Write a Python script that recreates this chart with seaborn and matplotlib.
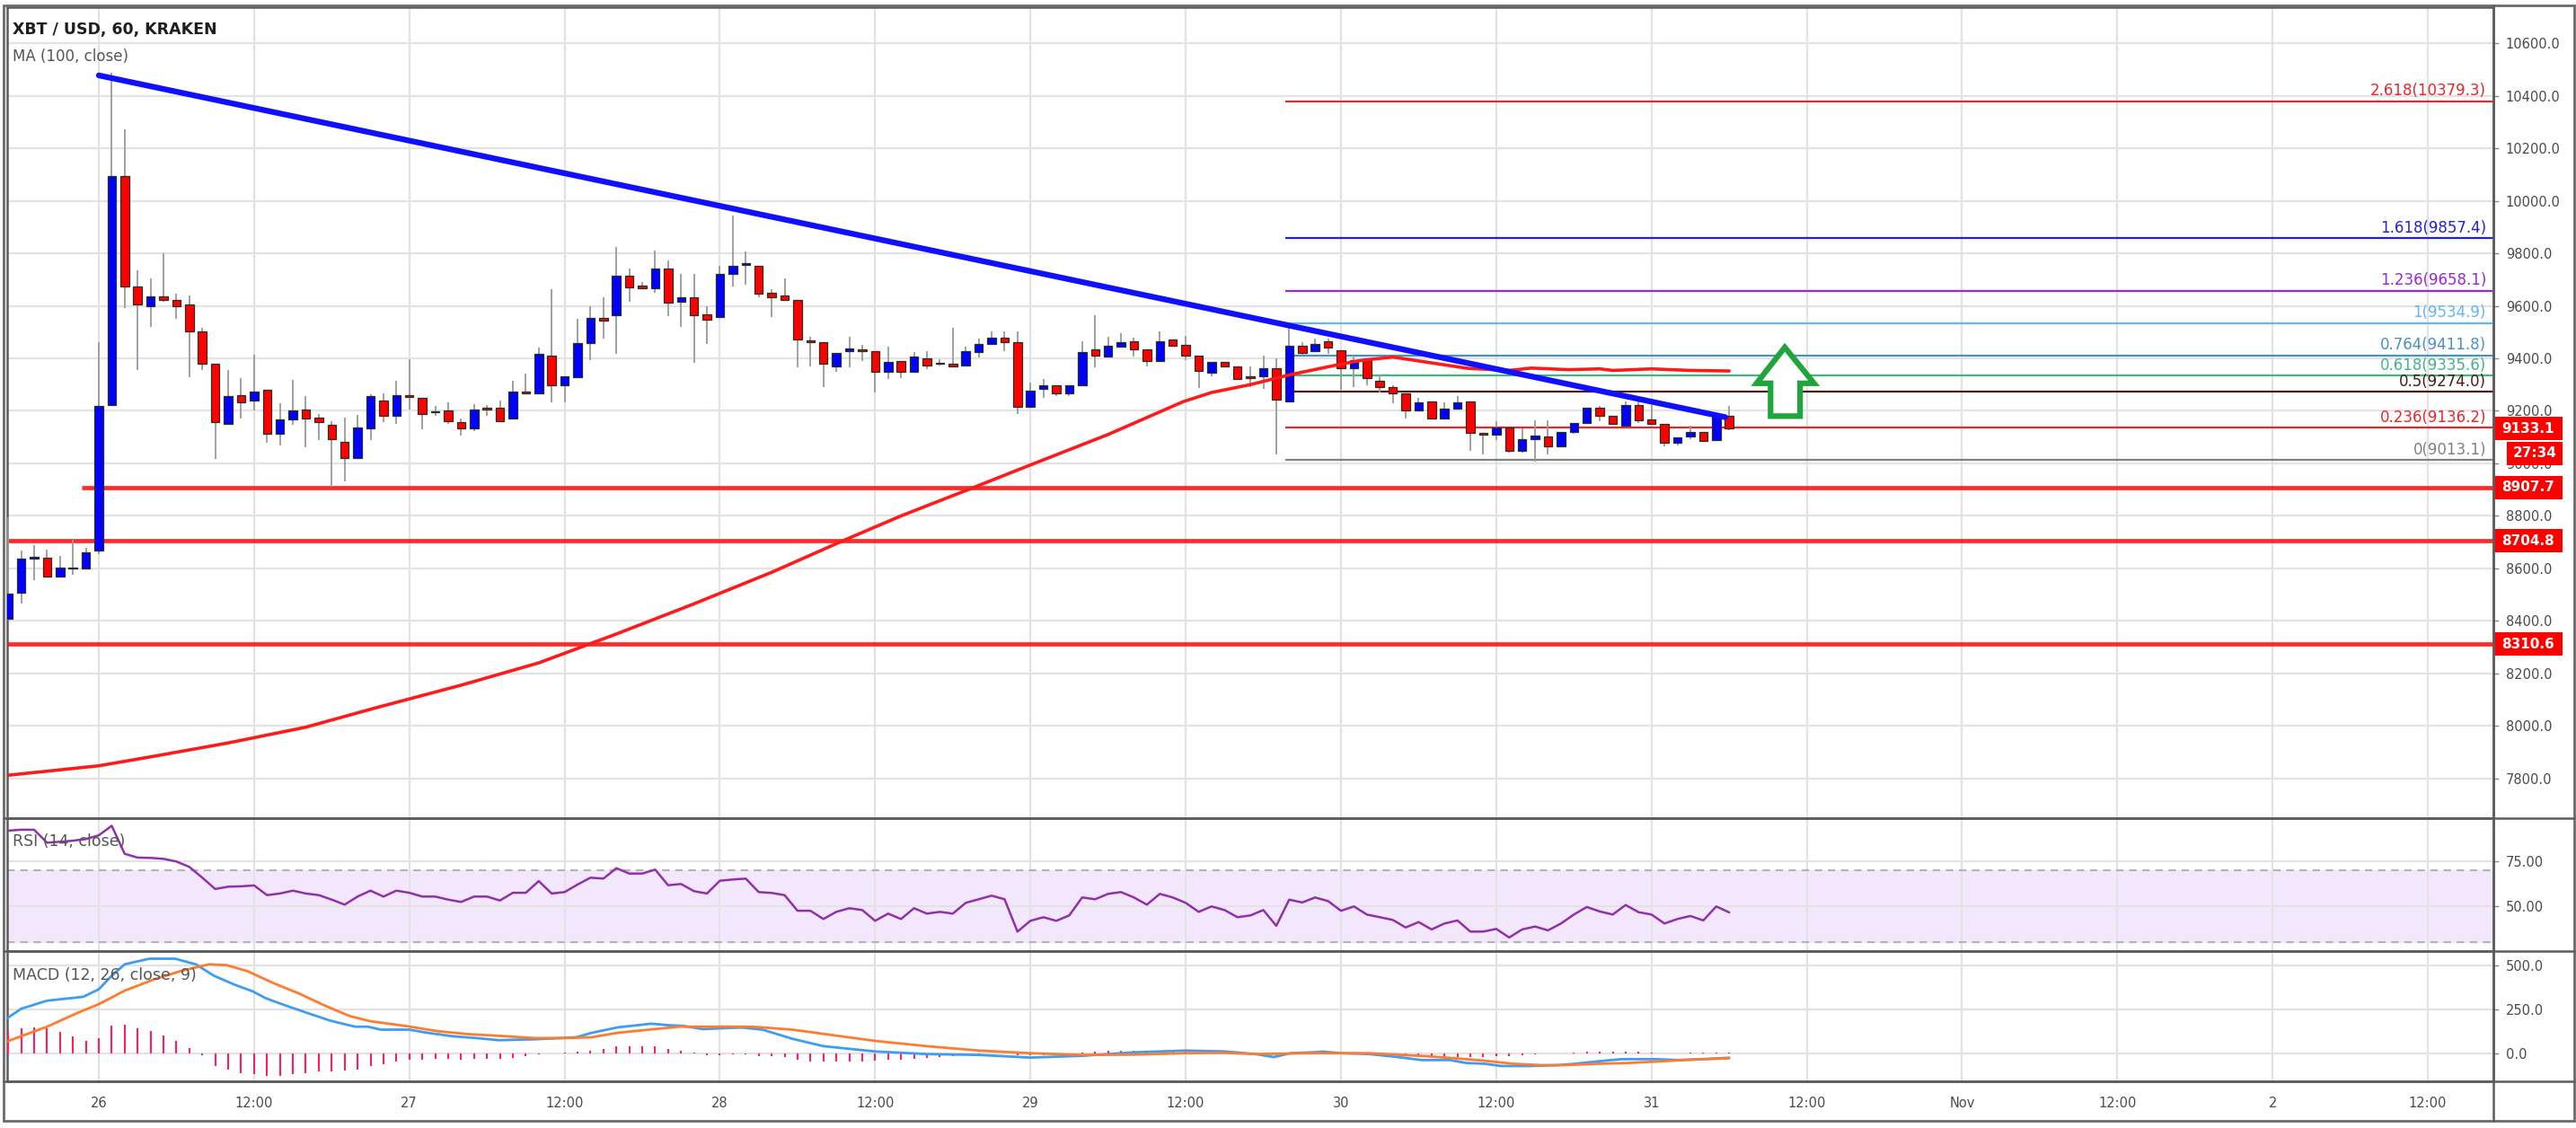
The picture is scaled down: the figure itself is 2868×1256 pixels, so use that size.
import matplotlib
matplotlib.use("Agg")
import numpy as np
import pandas as pd
import matplotlib.pyplot as plt
import matplotlib.dates as mdates
import matplotlib.transforms as mtransforms
from matplotlib.patches import Rectangle, Polygon
from matplotlib.lines import Line2D
import seaborn as sns

# ---------------------------------------------------------------- data
origin_time = "2019-10-26 00:00"
first_candle = "2019-10-25 17:00"

opens = [8409, 8506, 8636, 8640, 8570, 8603, 8600, 8668, 9222, 10094,
         9675, 9600, 9637, 9621, 9606, 9503, 9378, 9152, 9261, 9238,
         9281, 9113, 9167, 9205, 9175, 9148, 9083, 9022, 9132, 9238,
         9180, 9261, 9250, 9198, 9200, 9158, 9134, 9211, 9211, 9172,
         9275, 9267, 9411, 9297, 9329, 9457, 9554, 9566, 9714, 9678,
         9666, 9742, 9617, 9634, 9569, 9557, 9720, 9757, 9752, 9649,
         9640, 9623, 9467, 9460, 9368, 9426, 9433, 9429, 9349, 9391,
         9349, 9400, 9383, 9380, 9374, 9423, 9455, 9478, 9460, 9217,
         9283, 9297, 9265, 9297, 9434, 9406, 9445, 9465, 9434, 9389,
         9471, 9451, 9411, 9346, 9385, 9369, 9331, 9332, 9362, 9237,
         9449, 9428, 9465, 9430, 9362, 9394, 9315, 9290, 9267, 9200,
         9235, 9172, 9210, 9235, 9115, 9110, 9135, 9047, 9093, 9102,
         9064, 9118, 9155, 9212, 9180, 9145, 9223, 9166, 9152, 9078,
         9104, 9120, 9090, 9180]
highs = [8793, 8668, 8690, 8670, 8648, 8710, 8678, 9462, 10489, 10274,
         9736, 9703, 9800, 9646, 9638, 9515, 9378, 9357, 9324, 9414,
         9281, 9228, 9319, 9258, 9187, 9160, 9175, 9186, 9262, 9266,
         9315, 9397, 9250, 9220, 9232, 9170, 9226, 9223, 9238, 9315,
         9342, 9442, 9663, 9331, 9549, 9600, 9634, 9823, 9743, 9691,
         9811, 9774, 9720, 9720, 9600, 9754, 9943, 9808, 9754, 9663,
         9705, 9623, 9483, 9460, 9420, 9483, 9451, 9429, 9446, 9391,
         9423, 9429, 9397, 9517, 9446, 9474, 9503, 9503, 9503, 9309,
         9322, 9297, 9297, 9465, 9563, 9483, 9497, 9480, 9434, 9503,
         9471, 9486, 9411, 9385, 9385, 9369, 9369, 9411, 9400, 9519,
         9462, 9474, 9474, 9430, 9411, 9400, 9337, 9298, 9267, 9248,
         9235, 9233, 9256, 9235, 9115, 9161, 9135, 9133, 9163, 9163,
         9118, 9155, 9212, 9218, 9180, 9235, 9235, 9223, 9152, 9100,
         9144, 9120, 9180, 9218]
lows = [8400, 8465, 8556, 8570, 8568, 8575, 8600, 8656, 9218, 9592,
        9355, 9519, 9615, 9550, 9328, 9354, 9017, 9152, 9171, 9203,
        9080, 9067, 9147, 9060, 9090, 8910, 8930, 9020, 9090, 9157,
        9150, 9204, 9130, 9180, 9150, 9105, 9123, 9180, 9160, 9172,
        9265, 9265, 9234, 9234, 9329, 9394, 9474, 9417, 9614, 9663,
        9651, 9560, 9520, 9383, 9454, 9557, 9674, 9680, 9632, 9557,
        9623, 9366, 9371, 9291, 9349, 9366, 9389, 9269, 9320, 9326,
        9349, 9360, 9374, 9369, 9374, 9403, 9455, 9426, 9189, 9217,
        9251, 9257, 9257, 9297, 9366, 9406, 9445, 9406, 9371, 9389,
        9449, 9394, 9286, 9331, 9366, 9323, 9291, 9285, 9034, 9237,
        9411, 9428, 9417, 9280, 9290, 9297, 9269, 9230, 9172, 9200,
        9166, 9166, 9210, 9047, 9035, 9088, 9041, 9041, 9008, 9033,
        9064, 9113, 9155, 9159, 9152, 9145, 9155, 9152, 9064, 9067,
        9093, 9087, 9090, 9128]
closes = [8503, 8636, 8645, 8570, 8602, 8600, 8662, 9218, 10094, 9675,
          9606, 9637, 9621, 9600, 9503, 9378, 9157, 9255, 9232, 9275,
          9113, 9167, 9200, 9171, 9157, 9092, 9022, 9137, 9255, 9180,
          9261, 9253, 9188, 9195, 9162, 9134, 9205, 9205, 9162, 9275,
          9265, 9416, 9297, 9331, 9457, 9554, 9545, 9714, 9671, 9666,
          9742, 9611, 9634, 9566, 9546, 9720, 9752, 9763, 9648, 9632,
          9623, 9471, 9463, 9379, 9420, 9437, 9426, 9349, 9385, 9349,
          9406, 9374, 9380, 9369, 9429, 9455, 9478, 9460, 9217, 9277,
          9297, 9266, 9297, 9423, 9411, 9449, 9460, 9434, 9389, 9465,
          9449, 9411, 9352, 9385, 9369, 9323, 9326, 9362, 9244, 9449,
          9419, 9456, 9442, 9362, 9394, 9324, 9292, 9267, 9200, 9232,
          9172, 9210, 9233, 9115, 9110, 9135, 9047, 9093, 9105, 9064,
          9118, 9155, 9212, 9180, 9152, 9223, 9163, 9152, 9078, 9100,
          9121, 9087, 9180, 9133.1]

# MA(100) (hours from Oct 26 00:00, price)
ma_hours = [-7, 0, 4, 10, 16, 21.5, 28, 34, 40, 46, 52, 57.5, 62, 67.6, 72, 78,
            83.8, 86, 89, 92, 95.6, 97.5, 100, 102.7, 105.8, 109, 110.7, 113.6,
            116, 117, 120, 123, 126]
ma_values = [7812, 7848, 7882, 7935, 7995, 8070, 8155, 8240, 8350, 8465, 8585,
             8705, 8800, 8908, 8994, 9110, 9235, 9270, 9300, 9337, 9374, 9392,
             9405, 9385, 9362, 9354, 9363, 9357, 9360, 9354, 9360, 9354, 9352]

# descending trend line (hours, price)
trend_hours = [0.0, 125.7]
trend_prices = [10478, 9176]

# horizontal supports
support_prices = [8907.7, 8704.8, 8310.6]
support_start_hours = [-1.3, -7.1, -7.1]

# Fibonacci extension
fib_ratios = ["2.618", "1.618", "1.236", "1", "0.764", "0.618", "0.5", "0.236", "0"]
fib_prices = [10379.3, 9857.4, 9658.1, 9534.9, 9411.8, 9335.6, 9274.0, 9136.2, 9013.1]
fib_start_hour = 91.7

last_price_label = "9133.1"
countdown_label = "27:34"

# RSI(14) per candle
rsi_values = [92.2, 92.7, 92.7, 85.5, 86.0, 86.6, 87.5, 89.6, 94.9, 79.3,
              77.2, 77.0, 76.5, 75.0, 72.0, 66.0, 59.7, 61.0, 61.2, 61.7,
              56.3, 57.2, 58.8, 57.2, 56.3, 53.8, 51.0, 55.5, 58.8, 55.5,
              58.8, 57.6, 55.5, 55.5, 53.8, 52.5, 55.5, 55.5, 53.3, 57.6,
              57.6, 64.1, 57.2, 58.0, 62.2, 66.0, 65.5, 71.3, 68.3, 68.3,
              70.5, 61.8, 62.5, 58.5, 57.2, 64.3, 65.0, 65.5, 58.0, 57.5,
              56.3, 47.6, 47.6,
              43, 47, 49, 48, 42, 46, 43, 49, 46, 47, 46, 52, 54, 56, 54, 36,
              42, 44, 42, 45, 55, 54, 57, 58, 55, 51, 57, 55, 52, 47, 50, 48,
              44, 45,
              48.0, 39.2, 53.8, 52.2, 55.0, 53.0, 47.6, 50.0, 45.5, 44.0, 42.5,
              38.3, 41.3, 37.2, 40.5, 42.2, 36.0, 36.0, 37.5, 32.7, 37.2, 38.8,
              36.7, 40.5, 45.5, 49.7, 47.2, 45.5, 50.8, 46.8, 45.5, 40.5, 43.0,
              44.7, 42.2, 50.0, 46.7]

# MACD(12,26,9): histogram per candle, MACD & signal lines as read points
macd_hist = [123, 143, 149, 140, 120, 94, 68, 85, 157, 161,
             143, 126, 102, 68, 29, -14, -73, -96, -116, -120,
             -128, -128, -120, -113, -102, -102, -99, -96, -73, -65,
             -48, -39, -36, -31, -31, -39, -31, -31, -31, -26,
             -17, -5, 0, 2, 7, 15, 24, 38, 38, 38,
             38, 24, 15, 3, -14, -14, -5, -7, -17, -17, -24, -39,
             -45, -48, -50, -48, -45, -42, -38, -35, -30, -27, -22, -18, -12,
             -8, -4, -2, -12, -14, -12, -10, -6, 5, 8, 12, 14, 14, 12, 13, 12,
             9, 5, 3, 0, -3, -4,
             -3, -2, 2, 3, 5, 3, 0, -2, -3, -3, -5, -12, -15, -17, -20, -20,
             -22, -20, -17, -15, -10, -7, -3, 0, 3, 7, 7, 7, 7, 7, 5, 0, 0, 2,
             2, 3, 3]
macd_hours = [-7.2, -6, -4, -1.2, 0, 1, 2, 3.9, 5.9, 7.5, 8.9, 10.5, 11.9, 12.9,
              14.5, 16.2, 17.9, 19.8, 20.8, 21.8, 24, 25.4, 27.4, 29.2, 30.9,
              33.6, 35.7, 36.9, 38.1, 40.1, 42.7, 44.1, 45.1, 46.7, 48.1, 49.7,
              51.3, 53.6, 56, 60, 64, 68, 72, 76, 80, 84, 87, 89.4, 90.8, 92.1,
              93.8, 94.6, 96, 98.2, 100.4, 102.2, 104.4, 105.7, 107.1, 108.4,
              110.6, 112.8, 114.1, 115.9, 117.7, 120.3, 122.1, 123.8, 126]
macd_line = [193, 253, 299, 321, 364, 441, 506, 538, 538, 506, 441, 390, 352,
             313, 270, 227, 185, 151, 151, 134, 134, 116, 96, 86, 74, 79, 86,
             91, 116, 147, 168, 159, 156, 137, 142, 146, 134, 82, 40, 10, -5,
             -10, -25, -15, 5, 15, 10, -5, -22, 0, 5, 9, 0, -5, -22, -39, -39,
             -56, -60, -73, -73, -68, -60, -46, -34, -34, -39, -34, -26]
signal_hours = [-7.2, -4, -1.6, 0, 2, 4.3, 6.3, 8.5, 9.9, 11.5, 13.5, 15.5, 17.5,
                19.4, 21, 23.8, 26.2, 28.6, 30.9, 33.7, 36.1, 38.1, 40.1, 42.5,
                44.9, 48.1, 50.5, 53.6, 56, 60, 64, 68, 72, 76, 80, 84, 87, 89.4,
                93.8, 98.2, 100.4, 102.6, 104.8, 107.1, 109.3, 111.5, 113.3,
                115.9, 118.1, 120.3, 122.5, 126]
signal_line = [64, 151, 231, 279, 356, 421, 467, 506, 501, 467, 399, 339, 270,
               211, 182, 154, 125, 108, 99, 86, 86, 91, 116, 134, 151, 151, 151,
               134, 110, 70, 40, 15, 0, -10, -8, 0, 2, -5, 0, 0, -9, -17, -29,
               -43, -60, -68, -68, -60, -56, -48, -39, -29]

tick_hours = [0, 12, 24, 36, 48, 60, 72, 84, 96, 108, 120, 132, 144, 156, 168, 180]
tick_labels = ["26", "12:00", "27", "12:00", "28", "12:00", "29", "12:00",
               "30", "12:00", "31", "12:00", "Nov", "12:00", "2", "12:00"]

# ---------------------------------------------------------------- style
sns.set_theme(style="white")
plt.rcParams["font.family"] = ["DejaVu Sans"]

W, H = 2868, 1256
fig = plt.figure(figsize=(W / 100, H / 100), dpi=100)
fig.patch.set_facecolor("white")

def rect(x0, y0, x1, y1):
    return [x0 / W, 1 - y1 / H, (x1 - x0) / W, (y1 - y0) / H]

PL, PR = 8, 2776
Y_MAIN_TOP, Y_MAIN_BOT, Y_RSI_BOT, Y_MACD_BOT = 8, 910.7, 1058.7, 1204
ax = fig.add_axes(rect(PL, Y_MAIN_TOP, PR, Y_MAIN_BOT))
ax_rsi = fig.add_axes(rect(PL, Y_MAIN_BOT, PR, Y_RSI_BOT), sharex=ax)
ax_macd = fig.add_axes(rect(PL, Y_RSI_BOT, PR, Y_MACD_BOT), sharex=ax)

origin = pd.Timestamp(origin_time)
def at(hours):
    return mdates.date2num(origin + pd.to_timedelta(np.asarray(hours, float), unit="h"))

candle_x = mdates.date2num(pd.date_range(first_candle, periods=len(opens), freq="h"))
one_hour = 1 / 24
XL, XR = at(-7.08), at(185.06)

GRID = "#e3e3e3"
AXC = "#5c5c5c"
LBL = "#4a4a4a"

for a in (ax, ax_rsi, ax_macd):
    a.set_facecolor("white")
    a.set_xlim(XL, XR)
    a.set_xticks(at(tick_hours))
    a.grid(True, color=GRID, linewidth=1.6)
    a.set_axisbelow(True)
    a.yaxis.tick_right()
    for s in a.spines.values():
        s.set_color(AXC)
        s.set_linewidth(1.8)
    a.tick_params(axis="y", direction="out", length=4, width=1, color="#8a8a8a",
                  labelsize=10.5, labelcolor=LBL, pad=6)
    a.tick_params(axis="x", direction="out", length=4.5, width=1, color="#555555",
                  labelsize=10.5, labelcolor=LBL, pad=8)

ax.tick_params(axis="x", labelbottom=False, length=0)
ax_rsi.tick_params(axis="x", labelbottom=False, length=0)
ax_macd.set_xticklabels(tick_labels)

# ---------------------------------------------------------------- price panel
ax.set_ylim(7649.5, 10737.8)
ax.set_yticks(np.arange(7800, 10601, 200))
ax.set_yticklabels([f"{v:.1f}" for v in np.arange(7800, 10601, 200)])

o = np.array(opens, float); c = np.array(closes, float)
hi = np.array(highs, float); lo = np.array(lows, float)
up = c >= o
body_bot = np.minimum(o, c)
body_h = np.maximum(np.abs(c - o), 4)
colors = np.where(up, "#0000ff", "#ff0000")
ax.vlines(candle_x, lo, hi, color="#9a9a9a", linewidth=1.3, zorder=3)
ax.bar(candle_x, body_h, bottom=body_bot, width=0.66 * one_hour, color=colors,
       edgecolor="#243224", linewidth=0.9, zorder=4, align="center")

# supports
for p, h0 in zip(support_prices, support_start_hours):
    ax.hlines(p, at(h0), XR, color="#ff1414", linewidth=3.4, alpha=0.9, zorder=2.6)

# fib levels
fib_colors = ["#e8262b", "#2323d6", "#9b27d6", "#64b5f6", "#4a90c8", "#43b581",
              "#4d1a1a", "#e8262b", "#808080"]
blend = mtransforms.blended_transform_factory(ax.transAxes, ax.transData)
label_x = (2768 - PL) / (PR - PL)
for r, p, col in zip(fib_ratios, fib_prices, fib_colors):
    ax.hlines(p, at(fib_start_hour), XR, color=col, linewidth=1.6, zorder=2.7)
    ax.text(label_x, p + 8, f"{r}({p:.1f})", transform=blend, ha="right", va="bottom",
            fontsize=12, color=col, zorder=6)

# MA line
sns.lineplot(x=at(ma_hours), y=ma_values, ax=ax, color="#ff1a1a", linewidth=2.6,
             estimator=None, sort=False, legend=False, zorder=5)
# trend line
sns.lineplot(x=at(trend_hours), y=trend_prices, ax=ax, color="#1010ff", linewidth=4.6,
             estimator=None, sort=False, legend=False, zorder=6)

# green arrow (annotation)
arrow_h = [130.3, 132.56, 131.48, 131.48, 129.2, 129.2, 128.12]
arrow_p = [9442, 9305, 9305, 9180, 9180, 9305, 9305]
ax.add_patch(Polygon(np.column_stack([at(arrow_h), arrow_p]), closed=True,
                     facecolor="white", edgecolor="#1fa53a", linewidth=4.5,
                     joinstyle="miter", zorder=7))

# right-hand price boxes
ppx = 1 / 0.2923  # price units per pixel
def price_box(y_price, text, x0_px=2776, x1_px=2853):
    xa = (x0_px - PL) / (PR - PL); xb = (x1_px - PL) / (PR - PL)
    ax.add_patch(Rectangle((xa, y_price - 13 * ppx), xb - xa, 26 * ppx, transform=blend,
                           facecolor="#ff0000", edgecolor="none", clip_on=False, zorder=20))
    ax.text((xa + xb) / 2, y_price, text, transform=blend, ha="center", va="center",
            fontsize=11, fontweight="bold", color="white", clip_on=False, zorder=21)

price_box(closes[-1], last_price_label)
price_box(closes[-1] - 27.5 * ppx, countdown_label, x0_px=2791)
for p in support_prices:
    price_box(p, f"{p:.1f}")

# ---------------------------------------------------------------- RSI panel
ax_rsi.set_ylim(25.3, 99.3)
ax_rsi.set_yticks([50, 75])
ax_rsi.set_yticklabels(["50.00", "75.00"])
ax_rsi.axhspan(30, 70, color="#f3e7fd", zorder=0.5)
for lvl in (70, 30):
    ax_rsi.axhline(lvl, color="#b3b3b3", linewidth=1.5, linestyle=(0, (4, 3)), zorder=1)
sns.lineplot(x=candle_x, y=rsi_values, ax=ax_rsi, color="#9031aa", linewidth=1.8,
             estimator=None, sort=False, legend=False, zorder=4)

# ---------------------------------------------------------------- MACD panel
ax_macd.set_ylim(-160, 583)
ax_macd.set_yticks([0, 250, 500])
ax_macd.set_yticklabels(["0.0", "250.0", "500.0"])
ax_macd.vlines(candle_x, 0, macd_hist, color="#ff1f5a", linewidth=1.5, zorder=3)
sns.lineplot(x=at(macd_hours), y=macd_line, ax=ax_macd, color="#3d9df2", linewidth=2.0,
             estimator=None, sort=False, legend=False, zorder=4)
sns.lineplot(x=at(signal_hours), y=signal_line, ax=ax_macd, color="#ff7b2e", linewidth=2.0,
             estimator=None, sort=False, legend=False, zorder=5)

for a in (ax, ax_rsi, ax_macd):
    a.set_xlabel(""); a.set_ylabel("")

# ---------------------------------------------------------------- labels & frame
def ftext(x, y, s, **kw):
    fig.text(x / W, 1 - y / H, s, **kw)

ftext(14, 33, "XBT / USD, 60, KRAKEN", fontsize=12.5, fontweight="bold", color="#1e1e1e",
      va="center", ha="left")
ftext(14, 63, "MA (100, close)", fontsize=12, color="#555555", va="center", ha="left")
ftext(14, 937, "RSI (14, close)", fontsize=12.5, color="#555555", va="center", ha="left")
ftext(14, 1086, "MACD (12, 26, close, 9)", fontsize=12.5, color="#555555", va="center", ha="left")

def fline(x0, y0, x1, y1, color="#5c5c5c", lw=1.8):
    fig.add_artist(Line2D([x0 / W, x1 / W], [1 - y0 / H, 1 - y1 / H], color=color,
                          linewidth=lw, transform=fig.transFigure))

for yy in (Y_MAIN_BOT, Y_RSI_BOT, Y_MACD_BOT):
    fline(4, yy, 2866, yy)
fline(PR, 6, PR, 1248)
fig.add_artist(Rectangle((4 / W, 1 - 1248 / H), 2862 / W, 1242 / H, fill=False,
                         edgecolor="#6b6b6b", linewidth=2, transform=fig.transFigure))

fig.savefig("out.png", dpi=100, facecolor="white")
